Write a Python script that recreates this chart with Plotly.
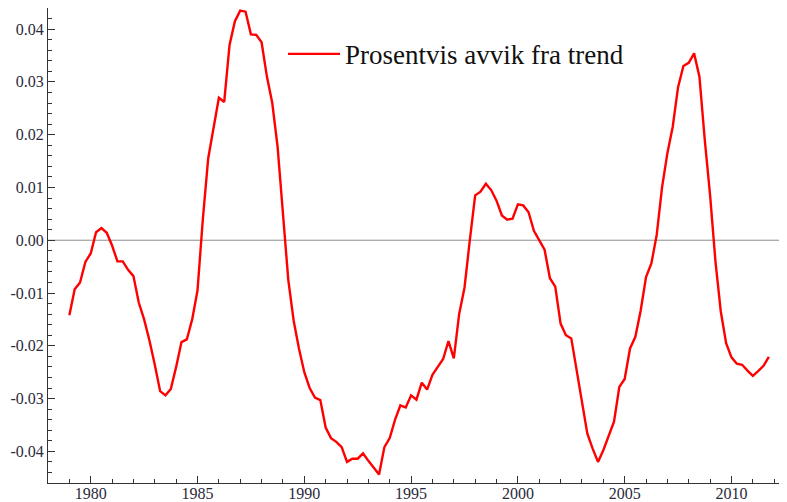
import plotly.graph_objects as go

# Quarterly percentage deviation from trend, 1979Q1 - 2011Q4
start_year = 1979
deviation = [
    -0.0142, -0.0093, -0.0080, -0.0041,   # 1979
    -0.0025, 0.0015, 0.0023, 0.0014,      # 1980
    -0.0010, -0.0040, -0.0040, -0.0056,   # 1981
    -0.0068, -0.0118, -0.0150, -0.0190,   # 1982
    -0.0236, -0.0286, -0.0294, -0.0282,   # 1983
    -0.0240, -0.0193, -0.0188, -0.0150,   # 1984
    -0.0095, 0.0040, 0.0155, 0.0215,      # 1985
    0.0270, 0.0262, 0.0370, 0.0415,       # 1986
    0.0435, 0.0433, 0.0390, 0.0389,       # 1987
    0.0375, 0.0310, 0.0260, 0.0177,       # 1988
    0.0050, -0.0075, -0.0152, -0.0205,    # 1989
    -0.0250, -0.0280, -0.0298, -0.0303,   # 1990
    -0.0355, -0.0375, -0.0382, -0.0392,   # 1991
    -0.0420, -0.0414, -0.0414, -0.0404,   # 1992
    -0.0418, -0.0432, -0.0444, -0.0392,   # 1993
    -0.0375, -0.0340, -0.0313, -0.0317,   # 1994
    -0.0294, -0.0302, -0.0270, -0.0283,   # 1995
    -0.0255, -0.0240, -0.0225, -0.0191,   # 1996
    -0.0224, -0.0140, -0.0090, 0.0000,    # 1997
    0.0085, 0.0092, 0.0107, 0.0095,       # 1998
    0.0075, 0.0047, 0.0039, 0.0041,       # 1999
    0.0068, 0.0066, 0.0053, 0.0018,       # 2000
    0.0000, -0.0018, -0.0072, -0.0088,    # 2001
    -0.0158, -0.0180, -0.0186, -0.0245,   # 2002
    -0.0303, -0.0366, -0.0395, -0.0420,   # 2003
    -0.0398, -0.0370, -0.0344, -0.0278,   # 2004
    -0.0263, -0.0205, -0.0183, -0.0133,   # 2005
    -0.0070, -0.0044, 0.0010, 0.0100,     # 2006
    0.0165, 0.0215, 0.0290, 0.0330,       # 2007
    0.0336, 0.0354, 0.0310, 0.0190,       # 2008
    0.0085, -0.0040, -0.0135, -0.0195,    # 2009
    -0.0222, -0.0234, -0.0236, -0.0247,   # 2010
    -0.0257, -0.0248, -0.0238, -0.0221,   # 2011
]
quarters = [start_year + i / 4 for i in range(len(deviation))]

y_ticks = [-0.04, -0.03, -0.02, -0.01, 0.0, 0.01, 0.02, 0.03, 0.04]
y_ticktext = ["-0.04", "-0.03", "-0.02", "-0.01", "0.00", "0.01", "0.02", "0.03", "0.04"]
x_ticks = [1980, 1985, 1990, 1995, 2000, 2005, 2010]

serif = "Liberation Serif, Times New Roman, serif"

fig = go.Figure()

fig.add_trace(go.Scatter(
    x=quarters,
    y=deviation,
    mode='lines',
    name='Prosentvis avvik fra trend',
    line=dict(color='#ff0000', width=2.4),
))

# gray zero axis
fig.add_hline(y=0, line=dict(color='#8c8c8c', width=1), layer='below')

# page body keeps an 8px margin, so the figure is 8px smaller than the window
fig.update_layout(
    width=779,
    height=494,
    margin=dict(l=40, r=0, t=0, b=19),
    plot_bgcolor='white',
    paper_bgcolor='white',
    font=dict(family=serif, size=16, color='#2a2a3a'),
    showlegend=True,
    legend=dict(
        x=0.318, y=0.954,
        xanchor='left', yanchor='top',
        bgcolor='rgba(0,0,0,0)',
        font=dict(family=serif, size=27, color='#111111'),
        itemwidth=52,
    ),
    xaxis=dict(
        range=[1978.0, 2012.6],
        tickvals=x_ticks,
        ticks='inside',
        ticklen=7,
        tickcolor='#333333',
        showline=True,
        linecolor='#333333',
        linewidth=1,
        showgrid=False,
        zeroline=False,
        ticklabelstandoff=-4,
        minor=dict(dtick=1, tick0=1978, ticks='inside', ticklen=4, tickcolor='#333333', showgrid=False),
        tickfont=dict(family=serif, size=16),
    ),
    yaxis=dict(
        range=[-0.046, 0.044],
        tickvals=y_ticks,
        ticktext=y_ticktext,
        ticks='inside',
        ticklen=7,
        tickcolor='#333333',
        showline=True,
        linecolor='#333333',
        linewidth=1,
        showgrid=False,
        zeroline=False,
        minor=dict(dtick=0.002, tick0=0, ticks='inside', ticklen=4, tickcolor='#333333', showgrid=False),
        tickfont=dict(family=serif, size=16),
    ),
)

fig.write_html("out.html")
